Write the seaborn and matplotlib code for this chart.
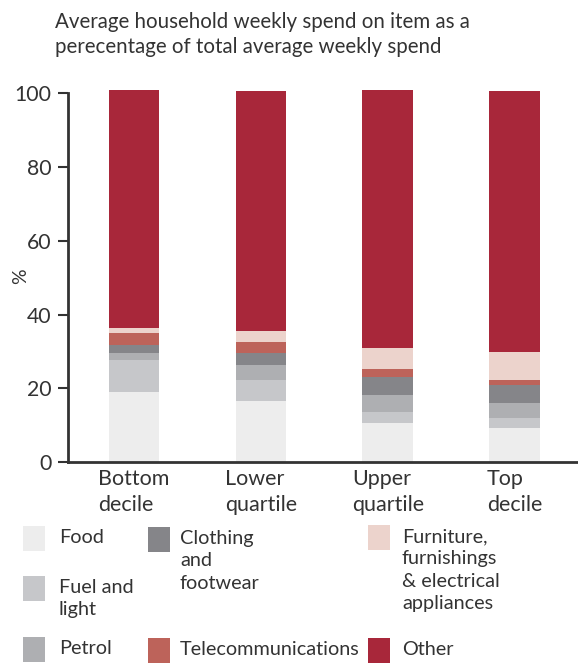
import seaborn as sns
import matplotlib.pyplot as plt
from matplotlib.patches import Rectangle
import numpy as np

# data
groups = ["Bottom\ndecile", "Lower\nquartile", "Upper\nquartile", "Top\ndecile"]
items = ["Food", "Fuel and\nlight", "Petrol", "Clothing\nand\nfootwear",
         "Telecommunications", "Furniture,\nfurnishings\n& electrical\nappliances", "Other"]
food = [19.1, 16.5, 10.6, 9.2]
fuel_light = [8.6, 5.7, 3.0, 2.7]
petrol = [1.9, 4.1, 4.6, 4.1]
clothing = [2.0, 3.3, 4.9, 4.9]
telecoms = [3.4, 2.9, 2.1, 1.3]
furniture = [1.4, 3.0, 5.8, 7.6]
other = [64.5, 65.1, 69.9, 70.8]
colors = ["#ededed", "#c6c7ca", "#aeafb2", "#858589", "#bd635a", "#ecd3cc", "#a8273a"]
yticks = [0, 20, 40, 60, 80, 100]

sns.set_style("white")
plt.rcParams['font.family'] = ['Lato', 'DejaVu Sans']
txt = "#333333"

fig = plt.figure(figsize=(5.78, 6.63), dpi=100)
ax = fig.add_axes([68 / 578, 1 - 462 / 663, 509 / 578, (462 - 89.6) / 663])

series = [food, fuel_light, petrol, clothing, telecoms, furniture, other]
bottom = np.zeros(len(groups))
for vals, col in zip(series, colors):
    sns.barplot(x=groups, y=vals, bottom=bottom, color=col, width=0.4,
                errorbar=None, saturation=1, linewidth=0, ax=ax)
    bottom = bottom + np.array(vals)

ax.set_xlim(-0.52, 3.49)
ax.set_ylim(0, 101)
ax.set_yticks(yticks)
ax.set_yticklabels([str(t) for t in yticks], fontsize=15.3, color=txt)
ax.set_xticks(range(len(groups)))
ax.set_xticklabels(groups, fontsize=15.5, color=txt, multialignment="left", linespacing=1.4)
ax.tick_params(axis="y", length=7, width=1.5, color=txt, left=True, pad=5)
ax.tick_params(axis="x", length=0, pad=5)
ax.set_ylabel("%", fontsize=14, color=txt)
ax.yaxis.set_label_coords(-0.076, 0.5)
ax.set_xlabel("")
for s in ["top", "right"]:
    ax.spines[s].set_visible(False)
for s in ["left", "bottom"]:
    ax.spines[s].set_color(txt)
    ax.spines[s].set_linewidth(2)
ax.spines["left"].set_bounds(0, 100)

fig.text(55 / 578, 1 - 12 / 663, "Average household weekly spend on item as a\nperecentage of total average weekly spend",
         ha="left", va="top", fontsize=14.8, color=txt, linespacing=1.3)

# legend drawn by hand: (item index, patch x, patch top y, text x)
legend_pos = [(0, 23, 526, 59), (1, 23, 576, 59), (2, 23, 637, 59),
              (3, 148, 527, 180), (4, 148, 638, 180),
              (5, 368, 525, 402), (6, 368, 638, 402)]
for i, px, py, tx in legend_pos:
    fig.add_artist(Rectangle((px / 578, 1 - (py + 25) / 663), 22 / 578, 25 / 663,
                             transform=fig.transFigure, facecolor=colors[i], edgecolor="none"))
    fig.text(tx / 578, 1 - (py + 3) / 663, items[i], ha="left", va="top",
             fontsize=14.3, color=txt, linespacing=1.38)

fig.savefig("out.png", dpi=100)
